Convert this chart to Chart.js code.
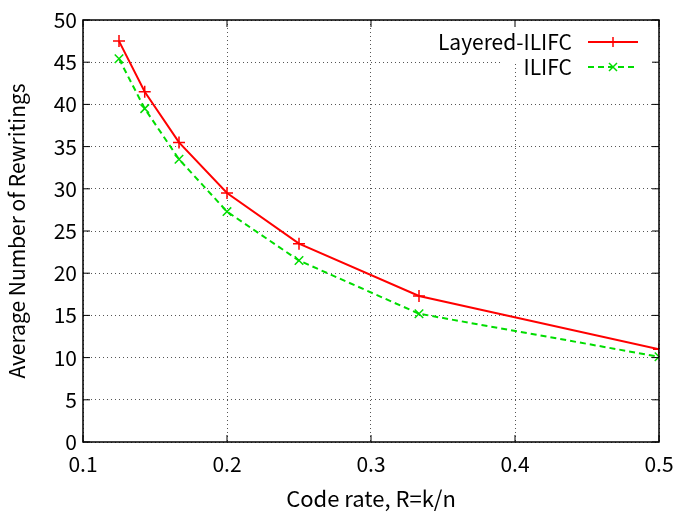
<!DOCTYPE html>
<html>
<head>
<meta charset="utf-8">
<script src="https://cdn.jsdelivr.net/npm/chart.js@4/dist/chart.umd.min.js"></script>
<style>
  html, body { margin: 0; padding: 0; background: #fff; }
  canvas { display: block; }
</style>
</head>
<body>
<canvas id="rateChart" width="697" height="513"></canvas>
<script>
const codeRates = [1/8, 1/7, 1/6, 1/5, 1/4, 1/3, 1/2];
const layeredIlifc = [47.5, 41.5, 35.5, 29.5, 23.5, 17.3, 11.0];
const ilifc = [45.4, 39.5, 33.5, 27.3, 21.5, 15.2, 10.1];
const seriesNames = ['Layered-ILIFC', 'ILIFC'];
const xTicks = [0.1, 0.2, 0.3, 0.4, 0.5];
const yTicks = [0, 5, 10, 15, 20, 25, 30, 35, 40, 45, 50];

const FONT = '"Noto Sans CJK JP", "Noto Sans", sans-serif';

function toPoints(xs, ys) {
    return xs.map((x, i) => ({ x: x, y: ys[i] }));
}

// gnuplot-like frame, inward ticks and key box
const gnuFrame = {
    id: 'gnuFrame',
    afterDatasetsDraw(chart) {
        const ctx = chart.ctx;
        const a = chart.chartArea;
        const xs = chart.scales.x, ys = chart.scales.y;
        ctx.save();
        // key background
        ctx.fillStyle = '#fff';
        ctx.fillRect(501, a.top + 1, 154, 42);
        // border
        ctx.strokeStyle = '#000';
        ctx.lineWidth = 1.5;
        ctx.strokeRect(a.left, a.top, a.right - a.left, a.bottom - a.top);
        // inward ticks
        ctx.lineWidth = 1;
        const t = 7;
        xTicks.forEach(v => {
            const px = xs.getPixelForValue(v);
            ctx.beginPath();
            ctx.moveTo(px, a.bottom); ctx.lineTo(px, a.bottom - t);
            ctx.moveTo(px, a.top); ctx.lineTo(px, a.top + t);
            ctx.stroke();
        });
        yTicks.forEach(v => {
            const py = ys.getPixelForValue(v);
            ctx.beginPath();
            ctx.moveTo(a.left, py); ctx.lineTo(a.left + t, py);
            ctx.moveTo(a.right, py); ctx.lineTo(a.right - t, py);
            ctx.stroke();
        });
        // key entries
        ctx.font = '21px ' + FONT;
        ctx.textAlign = 'right';
        ctx.textBaseline = 'middle';
        chart.data.datasets.forEach((ds, i) => {
            const y = 42 + i * 25;
            ctx.fillStyle = '#000';
            ctx.fillText(ds.label, 572, y);
            ctx.strokeStyle = ds.borderColor;
            ctx.lineWidth = 2;
            ctx.setLineDash(ds.borderDash || []);
            ctx.beginPath();
            ctx.moveTo(588, y); ctx.lineTo(638, y);
            ctx.stroke();
            ctx.setLineDash([]);
            const cx = 613, r = 5;
            ctx.lineWidth = 1.5;
            ctx.beginPath();
            if (ds.pointStyle === 'cross') {
                ctx.moveTo(cx - r, y); ctx.lineTo(cx + r, y);
                ctx.moveTo(cx, y - r); ctx.lineTo(cx, y + r);
            } else {
                ctx.moveTo(cx - 4, y - 4); ctx.lineTo(cx + 4, y + 4);
                ctx.moveTo(cx - 4, y + 4); ctx.lineTo(cx + 4, y - 4);
            }
            ctx.stroke();
        });
        ctx.restore();
    }
};

new Chart(document.getElementById('rateChart'), {
    type: 'line',
    data: {
        datasets: [{
            label: seriesNames[0],
            data: toPoints(codeRates, layeredIlifc),
            borderColor: '#ff0000',
            backgroundColor: '#ff0000',
            borderWidth: 2,
            pointStyle: 'cross',
            pointRadius: 6,
            pointBorderWidth: 1.5,
            tension: 0
        }, {
            label: seriesNames[1],
            data: toPoints(codeRates, ilifc),
            borderColor: '#00dd00',
            backgroundColor: '#00dd00',
            borderWidth: 2,
            borderDash: [6, 4],
            pointStyle: 'crossRot',
            pointRadius: 6,
            pointBorderWidth: 1.5,
            tension: 0
        }]
    },
    options: {
        responsive: false,
        animation: false,
        layout: { padding: { top: 20, right: 38, left: 0, bottom: 0 } },
        plugins: {
            legend: { display: false },
            tooltip: { enabled: false }
        },
        scales: {
            x: {
                type: 'linear',
                min: 0.1,
                max: 0.5,
                afterBuildTicks(scale) {
                    scale.ticks = xTicks.map(v => ({ value: v }));
                },
                afterFit(scale) { scale.height = 71; },
                border: { display: false, dash: [1, 3] },
                grid: {
                    color: '#555',
                    lineWidth: 1,
                    drawTicks: false
                },
                ticks: {
                    color: '#000',
                    padding: 9,
                    font: { family: FONT, size: 21 },
                    callback: v => String(v)
                },
                title: {
                    display: true,
                    text: 'Code rate, R=k/n',
                    color: '#000',
                    font: { family: FONT, size: 22 },
                    padding: { top: 6, bottom: 1 }
                }
            },
            y: {
                min: 0,
                max: 50,
                afterBuildTicks(scale) {
                    scale.ticks = yTicks.map(v => ({ value: v }));
                },
                afterFit(scale) { scale.width = 83; },
                border: { display: false, dash: [1, 3] },
                grid: {
                    color: '#555',
                    lineWidth: 1,
                    drawTicks: false
                },
                ticks: {
                    color: '#000',
                    padding: 6,
                    font: { family: FONT, size: 21 }
                },
                title: {
                    display: true,
                    text: 'Average Number of Rewritings',
                    color: '#000',
                    font: { family: FONT, size: 21 },
                    padding: { top: 4, bottom: 4 }
                }
            }
        }
    },
    plugins: [gnuFrame]
});
</script>
</body>
</html>
